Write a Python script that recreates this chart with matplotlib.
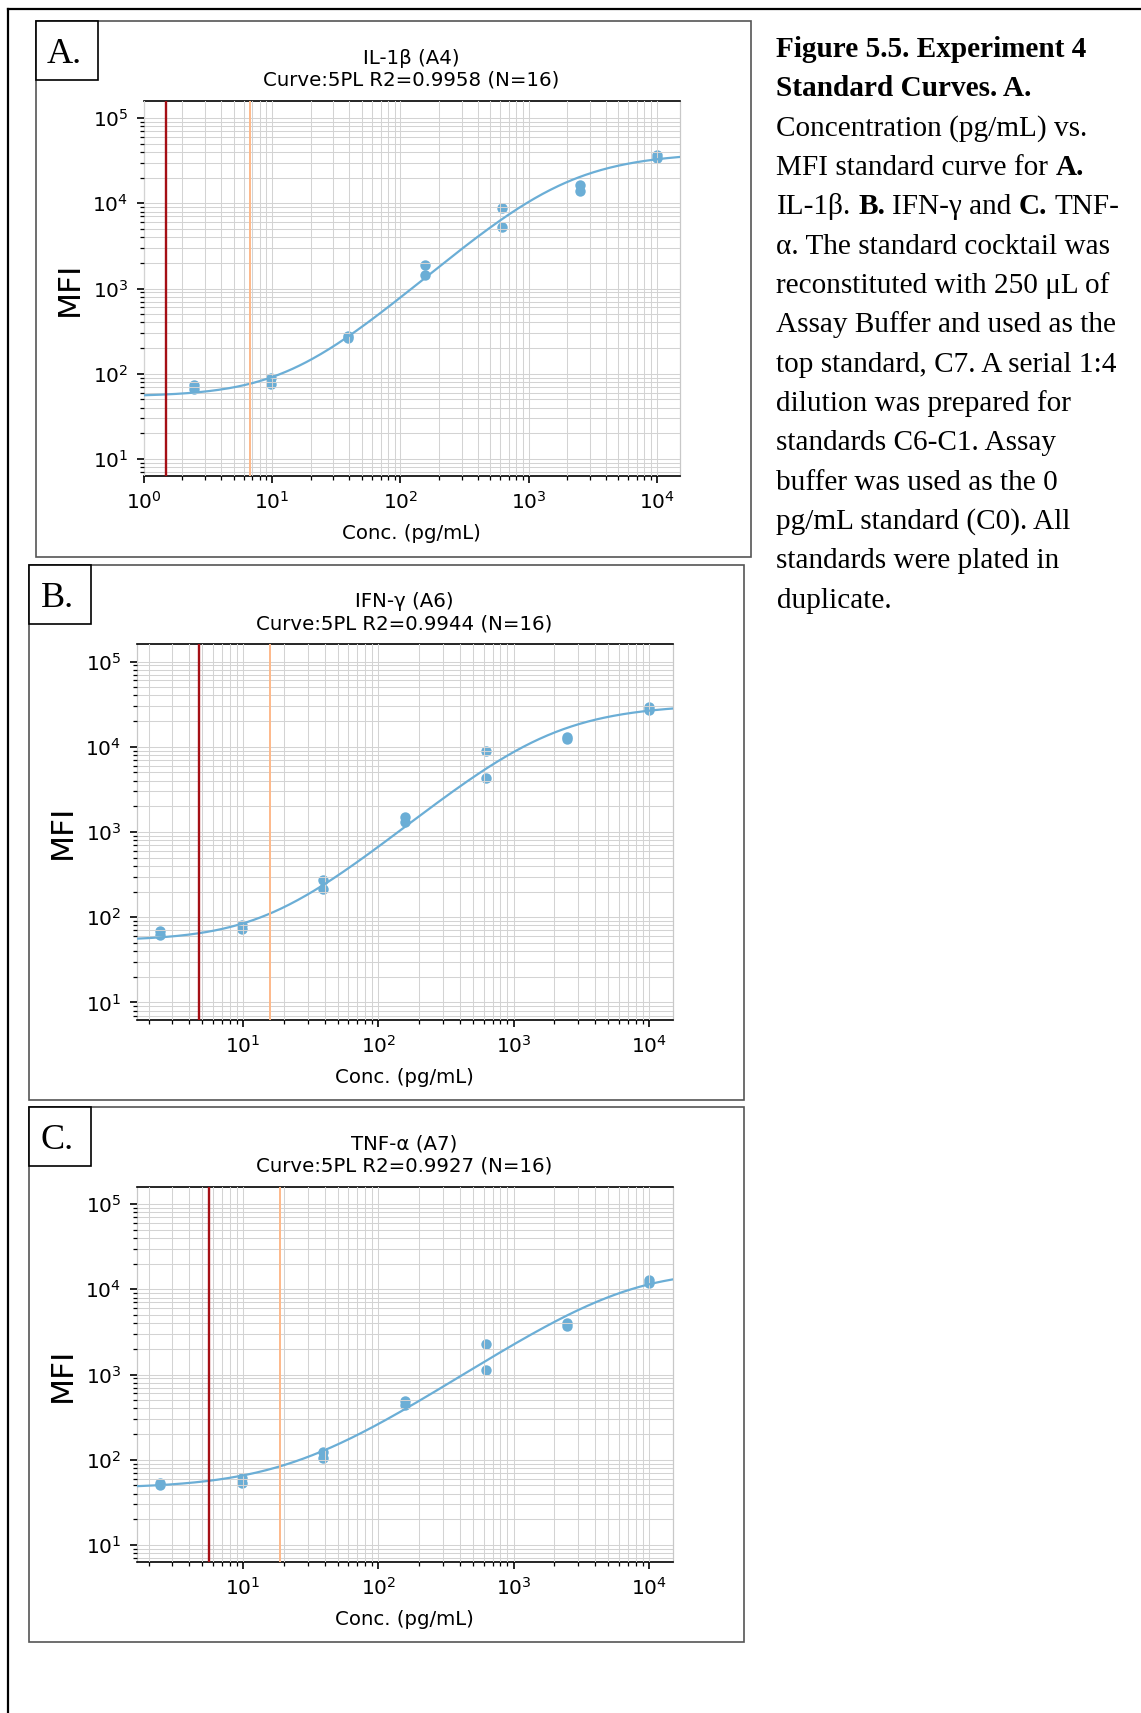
import numpy as np
import matplotlib
matplotlib.use("Agg")
import matplotlib.pyplot as plt
from matplotlib.patches import Rectangle
from matplotlib.lines import Line2D
from matplotlib.ticker import LogLocator

W, H = 1141, 1713

# standard concentrations (pg/mL), C1..C7 plated in duplicate
conc = [2.44, 2.44, 9.77, 9.77, 39.06, 39.06, 156.25, 156.25,
        625, 625, 2500, 2500, 10000, 10000]

il1b_mfi = [73, 67, 88, 75, 280, 262, 1870, 1440, 8900, 5200, 16500, 13800, 36900, 33600]
ifng_mfi = [69, 62, 80, 72, 275, 212, 1500, 1310, 9000, 4350, 13000, 12200, 29000, 26800]
tnfa_mfi = [53, 51, 61, 54, 122, 105, 490, 435, 2250, 1120, 4000, 3750, 13000, 11900]

# 5PL fit parameters: bottom, top, midpoint, slope, asymmetry
il1b_fit = [54, 40000, 1622, 1.3, 0.7]
ifng_fit = [53, 32000, 1550, 1.3, 0.7]
tnfa_fit = [46, 16000, 11500, 1.05, 2.0]

# red / orange vertical limits (pg/mL)
il1b_limits = [1.49, 6.67]
ifng_limits = [4.75, 15.9]
tnfa_limits = [5.6, 18.8]

analytes = ["IL-1β (A4)", "IFN-γ (A6)", "TNF-α (A7)"]
r2_values = ["0.9958", "0.9944", "0.9927"]
n_points = [16, 16, 16]
panel_letters = ["A.", "B.", "C."]

caption = [
    [("Figure 5.5. Experiment 4", True)],
    [("Standard Curves. A.", True)],
    [("Concentration (pg/mL) vs.", False)],
    [("MFI standard curve for ", False), ("A.", True)],
    [("IL-1β. ", False), ("B.", True), (" IFN-γ and ", False), ("C.", True), (" TNF-", False)],
    [("α. The standard cocktail was", False)],
    [("reconstituted with 250 μL of", False)],
    [("Assay Buffer and used as the", False)],
    [("top standard, C7. A serial 1:4", False)],
    [("dilution was prepared for", False)],
    [("standards C6-C1. Assay", False)],
    [("buffer was used as the 0", False)],
    [("pg/mL standard (C0). All", False)],
    [("standards were plated in", False)],
    [("duplicate.", False)],
]

BLUE = "#6baed6"
RED = "#a50f15"
ORANGE = "#fdb98a"


def five_pl(x, a, d, c, b, g):
    return d + (a - d) / (1 + (x / c) ** b) ** g


def fx(x):
    return x / W


def fy(y):
    return 1 - y / H


fig = plt.figure(figsize=(W / 100, H / 100), dpi=100)

# outer frame (top and left rules)
fig.add_artist(Line2D([fx(8), 1], [fy(9), fy(9)], transform=fig.transFigure, color="black", lw=1.6))
fig.add_artist(Line2D([fx(8), fx(8)], [fy(9), 0], transform=fig.transFigure, color="black", lw=1.6))

# panel boxes (x0, y0, x1, y1) and axes boxes in pixels
panel_boxes = [(35.5, 21, 750.5, 556.5), (29, 565, 744, 1100), (29, 1107, 744, 1642)]
axes_boxes = [(143.5, 101, 679.5, 476), (136.5, 644.5, 672.5, 1019.5), (136.5, 1187, 672.5, 1562)]

all_mfi = [il1b_mfi, ifng_mfi, tnfa_mfi]
all_fit = [il1b_fit, ifng_fit, tnfa_fit]
all_limits = [il1b_limits, ifng_limits, tnfa_limits]

for i in range(3):
    px0, py0, px1, py1 = panel_boxes[i]
    fig.add_artist(Rectangle((fx(px0), fy(py1)), (px1 - px0) / W, (py1 - py0) / H,
                             transform=fig.transFigure, fill=False, ec="#555555", lw=1.2))
    fig.add_artist(Rectangle((fx(px0), fy(py0 + 59)), 62 / W, 59 / H,
                             transform=fig.transFigure, fc="white", ec="black", lw=1.2, zorder=5))
    fig.text(fx(px0 + 11.5), fy(py0 + 42), panel_letters[i], family="Liberation Serif",
             fontsize=26, va="baseline", ha="left", zorder=6)

    x0, y0, x1, y1 = axes_boxes[i]
    ax = fig.add_axes([fx(x0), fy(y1), (x1 - x0) / W, (y1 - y0) / H])
    ax.set_xscale("log")
    ax.set_yscale("log")

    lo = min(min(conc), all_limits[i][0]) / 1.5
    hi = max(conc) * 1.5
    ax.set_xlim(lo, hi)
    ax.set_ylim(10 ** 0.8, 10 ** 5.2)

    xx = np.logspace(np.log10(lo), np.log10(hi), 400)
    ax.plot(xx, five_pl(xx, *all_fit[i]), color=BLUE, lw=1.6, zorder=3)
    ax.plot(conc, all_mfi[i], "o", ms=7.5, color=BLUE, mec="none", zorder=2)
    ax.axvline(all_limits[i][0], color=RED, lw=1.7, zorder=3)
    ax.axvline(all_limits[i][1], color=ORANGE, lw=1.4, zorder=3)

    for axis in (ax.xaxis, ax.yaxis):
        axis.set_major_locator(LogLocator(base=10, numticks=15))
        axis.set_minor_locator(LogLocator(base=10, subs=np.arange(2, 10), numticks=15))

    ax.grid(True, which="both", color="#d3d3d3", lw=0.75)
    ax.set_axisbelow(False)
    ax.tick_params(which="major", length=5, width=1.2, labelsize=14.5, pad=6)
    ax.tick_params(which="minor", length=2.8, width=0.9)
    for side in ("top", "bottom"):
        ax.spines[side].set_color("black")
        ax.spines[side].set_linewidth(1.2)
    for side in ("left", "right"):
        ax.spines[side].set_color("#c8c8c8")
        ax.spines[side].set_linewidth(0.9)

    ax.set_title(f"{analytes[i]}\nCurve:5PL R2={r2_values[i]} (N={n_points[i]})",
                 fontsize=14.2, pad=11)
    ax.set_xlabel("Conc. (pg/mL)", fontsize=14.2, labelpad=8)
    ax.set_ylabel("MFI", fontsize=22.5, labelpad=6)

# caption with mixed bold / regular runs
renderer = fig.canvas.get_renderer()
CAP_FS = 21.1


def text_width(s, bold):
    t = fig.text(0, 0, s, fontsize=CAP_FS, family="Liberation Serif",
                 weight="bold" if bold else "normal")
    w = t.get_window_extent(renderer).width
    t.remove()
    return w


space_w = {b: text_width("a a", b) - text_width("aa", b) for b in (False, True)}

x_start, base0, step = 776.5, 57, 39.33
for k, runs in enumerate(caption):
    x = x_start
    y = base0 + k * step
    for s, bold in runs:
        lead = len(s) - len(s.lstrip(" "))
        trail = len(s) - len(s.rstrip(" "))
        core = s.strip(" ")
        x += lead * space_w[bold]
        fig.text(fx(x), fy(y), core, fontsize=CAP_FS, family="Liberation Serif",
                 weight="bold" if bold else "normal", va="baseline", ha="left")
        x += text_width(core, bold) + trail * space_w[bold]

fig.savefig("out.png", dpi=100)
